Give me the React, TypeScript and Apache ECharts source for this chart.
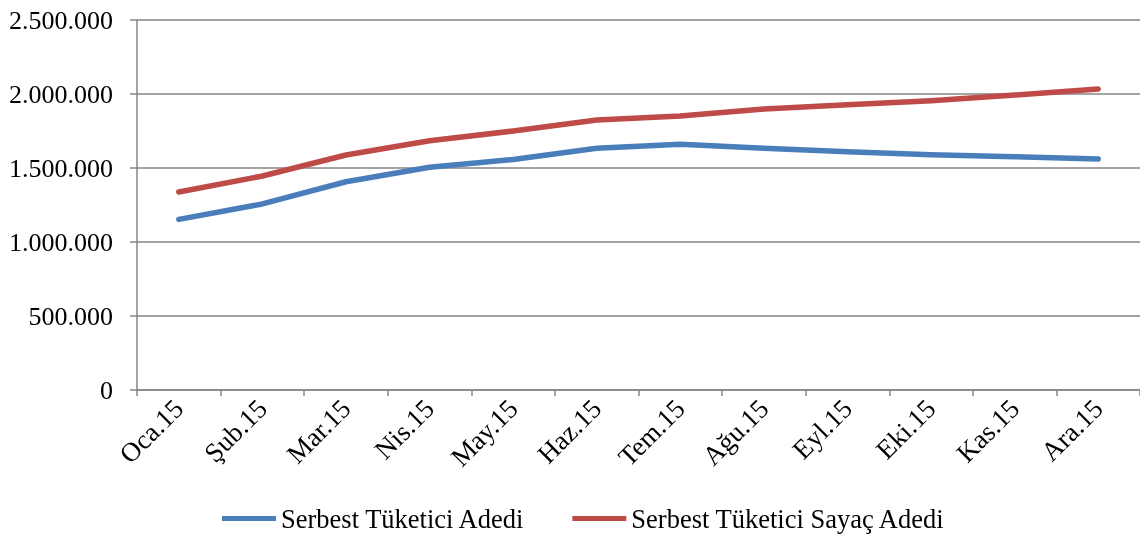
import React, { useEffect, useRef } from "react";
import * as echarts from "echarts";

const categories = ["Oca.15", "Şub.15", "Mar.15", "Nis.15", "May.15", "Haz.15", "Tem.15", "Ağu.15", "Eyl.15", "Eki.15", "Kas.15", "Ara.15"];
const tuketiciAdedi = [1153000, 1257000, 1407000, 1505000, 1558000, 1633000, 1660000, 1633000, 1610000, 1590000, 1576000, 1561000];
const sayacAdedi = [1338000, 1446000, 1588000, 1684000, 1750000, 1824000, 1851000, 1898000, 1928000, 1955000, 1993000, 2034000];
const seriesNames = ["Serbest Tüketici Adedi", "Serbest Tüketici Sayaç Adedi"];

const fmt = (v: number) => String(v).replace(/\B(?=(\d{3})+(?!\d))/g, ".");

export default function App() {
  const ref = useRef<HTMLDivElement>(null);
  useEffect(() => {
    if (!ref.current) return;
    const chart = echarts.init(ref.current, undefined, { renderer: "svg" });
    const font = "'Liberation Serif', 'Times New Roman', serif";
    chart.setOption({
      animation: false,
      textStyle: { fontFamily: font },
      grid: { left: 137, top: 20, width: 1006, height: 370 },
      legend: {
        bottom: 2,
        left: 217,
        icon: "rect",
        itemWidth: 54,
        itemHeight: 5,
        itemGap: 47,
        textStyle: { fontFamily: font, fontSize: 26.5, color: "#000" },
        data: seriesNames,
      },
      xAxis: {
        type: "category",
        data: categories,
        boundaryGap: true,
        axisLine: { lineStyle: { color: "#868686", width: 1.5 } },
        axisTick: { show: true, length: 6, lineStyle: { color: "#868686", width: 1.5 } },
        axisLabel: { rotate: 45, fontFamily: font, fontSize: 27, color: "#000", margin: 14, interval: 0 },
      },
      yAxis: {
        type: "value",
        min: 0,
        max: 2500000,
        interval: 500000,
        axisLine: { show: true, lineStyle: { color: "#868686", width: 1.5 } },
        axisTick: { show: true, length: 7, lineStyle: { color: "#868686", width: 1.5 } },
        splitLine: { lineStyle: { color: "#868686", width: 1.5 } },
        axisLabel: { fontFamily: font, fontSize: 26, color: "#000", margin: 24, formatter: (v: number) => fmt(v) },
      },
      series: [
        {
          name: seriesNames[0],
          type: "line",
          data: tuketiciAdedi,
          showSymbol: false,
          symbol: "none",
          color: "#4a7ebb",
          lineStyle: { width: 5.5, color: "#4a7ebb", cap: "round", join: "round" },
        },
        {
          name: seriesNames[1],
          type: "line",
          data: sayacAdedi,
          showSymbol: false,
          symbol: "none",
          color: "#be4b48",
          lineStyle: { width: 5.5, color: "#be4b48", cap: "round", join: "round" },
        },
      ],
    });
    return () => chart.dispose();
  }, []);
  return <div ref={ref} style={{ position: "fixed", left: 0, top: 0, width: 1140, height: 539 }} />;
}
